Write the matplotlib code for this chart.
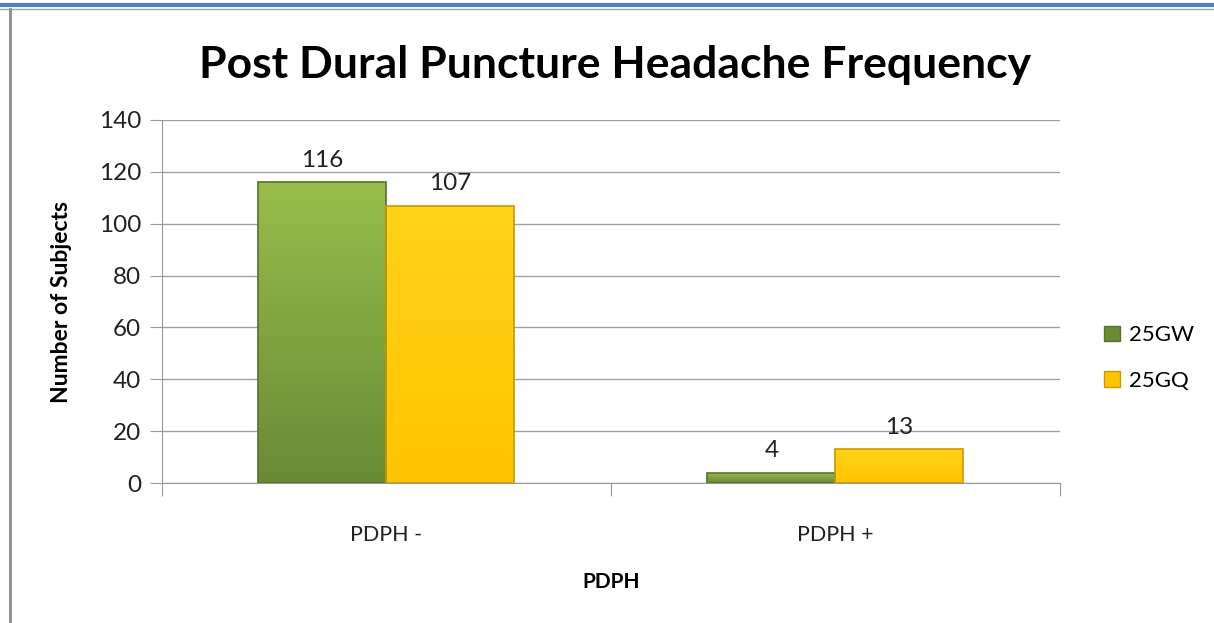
import numpy as np
import matplotlib.pyplot as plt
from matplotlib.patches import Rectangle
from matplotlib.lines import Line2D

categories = ["PDPH -", "PDPH +"]
series_names = ["25GW", "25GQ"]
gw_values = [116, 4]
gq_values = [107, 13]

plt.rcParams['font.family'] = ['Lato', 'DejaVu Sans']

fig = plt.figure(figsize=(12.14, 6.23), dpi=100)
ax = fig.add_axes([0.1334, 0.2247, 0.7397, 0.5827])

x = np.arange(len(categories))
w = 0.285
colors = [("#98bd4c", "#6a8a35", "#55722a"), ("#ffd21a", "#ffc400", "#c99a00")]

def gradient_bars(bars, top, bottom, edge):
    cmap = plt.matplotlib.colors.LinearSegmentedColormap.from_list("g", [bottom, top])
    for b in bars:
        x0, y0 = b.get_x(), b.get_y()
        bw, bh = b.get_width(), b.get_height()
        im = ax.imshow(np.linspace(0, 1, 100).reshape(-1, 1), cmap=cmap, origin="lower",
                       extent=[x0, x0 + bw, y0, y0 + bh], aspect="auto", zorder=2)
        im.set_clip_path(b)
        b.set_facecolor("none")
        b.set_edgecolor(edge)
        b.set_linewidth(1.2)
        b.set_zorder(3)

for i, (vals, c) in enumerate(zip([gw_values, gq_values], colors)):
    bars = ax.bar(x + (i - 0.5) * w, vals, w, label=series_names[i])
    gradient_bars(bars, c[0], c[1], c[2])
    for xi, v in zip(x + (i - 0.5) * w, vals):
        ax.text(xi, v + 4.5, str(v), ha="center", va="bottom", fontsize=17.5, color="#222222")

ax.set_xlim(-0.5, 1.5)
ax.set_ylim(0, 140)
ax.set_yticks(range(0, 141, 20))
ax.set_xticks([-0.5, 0.5, 1.5], minor=False)
ax.set_xticklabels([])
ax.set_xticks(x, minor=True)
ax.set_xticklabels(categories, minor=True)
ax.tick_params(axis="x", which="minor", length=0, pad=30, labelsize=15.5, labelcolor="#222222")
ax.tick_params(axis="x", which="major", length=9, color="#9a9a9a")
ax.tick_params(axis="y", length=9, color="#9a9a9a", labelsize=17.5, labelcolor="#222222", pad=6)
ax.grid(axis="y", color="#a0a0a0", linewidth=1, zorder=0)
ax.set_axisbelow(True)
for s in ["top", "right"]:
    ax.spines[s].set_visible(False)
for s in ["left", "bottom"]:
    ax.spines[s].set_color("#9a9a9a")

ax.set_ylabel("Number of Subjects", fontsize=16.5, fontweight="bold", labelpad=19)
ax.set_xlabel("PDPH", fontsize=15, fontweight="bold", labelpad=20)
fig.text(0.507, 0.875, "Post Dural Puncture Headache Frequency", ha="center", va="baseline",
         fontsize=32, fontweight="bold")

handles = [Rectangle((0, 0), 1, 1, facecolor=c[1], edgecolor=c[2]) for c in colors]
fig.legend(handles, series_names, loc="center left", bbox_to_anchor=(0.893, 0.425),
           frameon=False, fontsize=16, handlelength=0.7, handleheight=0.7,
           handletextpad=0.4, labelspacing=1.15)

# page frame
fig.add_artist(Line2D([0, 1], [0.992, 0.992], color="#4f81bd", linewidth=3, transform=fig.transFigure))
fig.add_artist(Line2D([0, 1], [0.986, 0.986], color="#a6a6a6", linewidth=1, transform=fig.transFigure))
fig.add_artist(Line2D([0.0085, 0.0085], [0, 0.986], color="#8c8c8c", linewidth=2, transform=fig.transFigure))

fig.savefig("out.png", dpi=100)
